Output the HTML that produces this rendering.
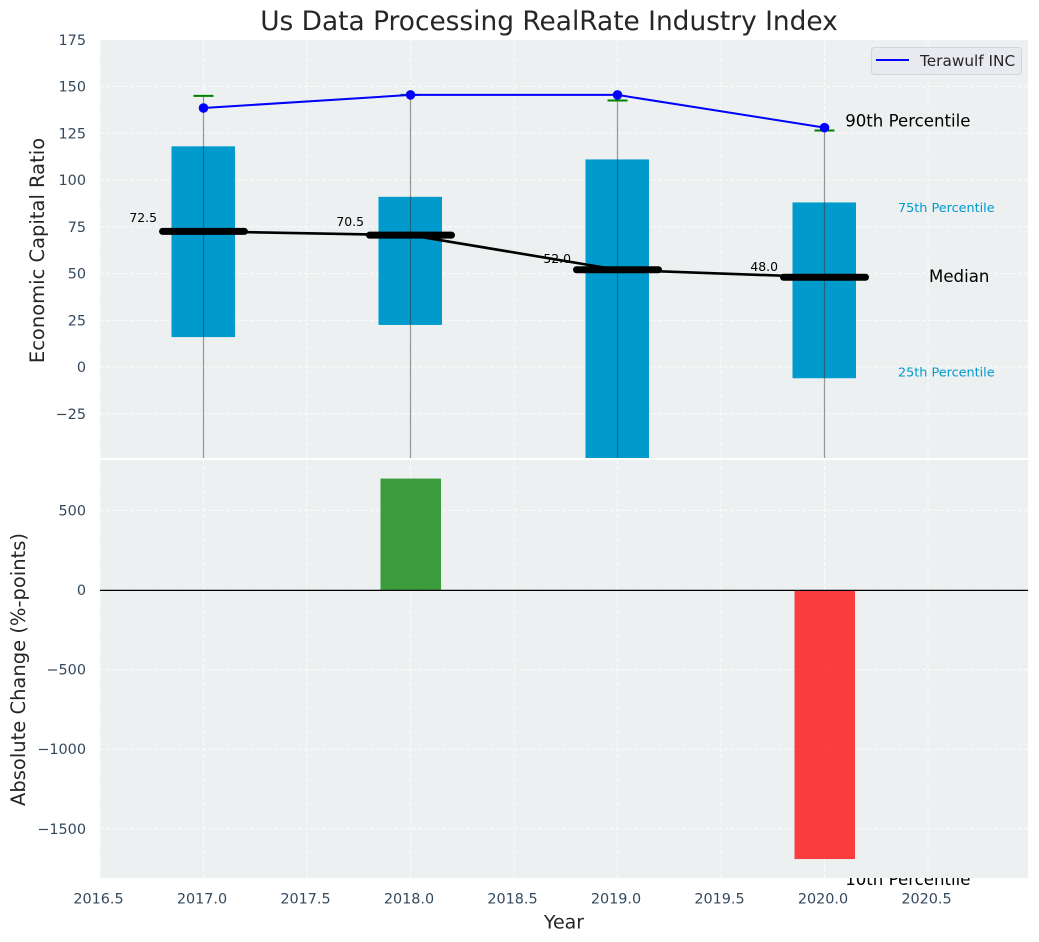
<!DOCTYPE html>
<html>
<head>
<meta charset="utf-8">
<title>Us Data Processing RealRate Industry Index</title>
<style>
html,body{margin:0;padding:0;background:#fff;}
svg{display:block;font-family:"DejaVu Sans","Liberation Sans",sans-serif;}
</style>
</head>
<body>
<svg id="chart" xmlns="http://www.w3.org/2000/svg" width="1039" height="942" viewBox="0 0 1039 942">
<defs>
<clipPath id="clip-top"><rect x="100" y="40" width="928" height="418"/></clipPath>
<clipPath id="clip-bottom"><rect x="100" y="460" width="928" height="418"/></clipPath>
</defs>
</svg>
<script>
const years = [2017, 2018, 2019, 2020];
const p90 = [145, 145.5, 142.5, 126.5];
const p75 = [118, 91, 111, 88];
const medians = [72.5, 70.5, 52, 48];
const p25 = [16, 22.5, -60, -6];
const p10 = [-70, -70, -90, -60];
const company = [138.5, 145.5, 145.5, 128];
const changes = [0, 700, 0, -1690];
const xTicks = [2016.5, 2017, 2017.5, 2018, 2018.5, 2019, 2019.5, 2020, 2020.5];
const topTicks = [175, 150, 125, 100, 75, 50, 25, 0, -25];
const bottomTicks = [500, 0, -500, -1000, -1500];
const percentileNames = ['90th Percentile', '75th Percentile', 'Median', '25th Percentile', '10th Percentile'];
const percentileX = [2020.1, 2020.355, 2020.505, 2020.355, 2020.1];
const percentileY = [128.5, 83, 45.5, -5, -277];

const NS = 'http://www.w3.org/2000/svg';
const svg = document.getElementById('chart');
const PL = 100, PR = 1028, TT = 40, TB = 458, BT = 460, BB = 878;
function x(v) { return 100 + (v - 2016.5) * 207; }
function yTop(v) { return 367 - v * 1.87; }
function yBot(v) { return 590 - v * 0.1592; }
function make(tag, attrs, parent) {
  const e = document.createElementNS(NS, tag);
  for (const k in attrs) e.setAttribute(k, attrs[k]);
  (parent || svg).appendChild(e);
  return e;
}
function fmt(v) { return v < 0 ? '\u2212' + Math.abs(v) : String(v); }

const title = make('text', {x: 549, y: 30, 'text-anchor': 'middle', 'font-size': 26.4, fill: '#262626'});
title.textContent = 'Us Data Processing RealRate Industry Index';



/* top panel */
const topBg = make('rect', {x: PL, y: TT, width: PR - PL, height: TB - TT, fill: '#ecf0f1'});



const topGrid = make('g', {stroke: '#fff', 'stroke-width': 1, 'stroke-dasharray': '4 2', opacity: 0.85});


xTicks.forEach(function (t) {
  const l = make('line', {x1: x(t), x2: x(t), y1: TT, y2: TB}, topGrid);
  
  
});
topTicks.forEach(function (t) {
  const l = make('line', {x1: PL, x2: PR, y1: yTop(t), y2: yTop(t)}, topGrid);
  
  
});

const topMarks = make('g', {'clip-path': 'url(#clip-top)'});



years.forEach(function (yr, i) {
  const box = make('rect', {
    x: x(yr) - 32, width: 63.5,
    y: yTop(p75[i]), height: yTop(p25[i]) - yTop(p75[i]),
    fill: '#009acd'
  }, topMarks);
  
  
});
years.forEach(function (yr, i) {
  const w = make('line', {
    x1: x(yr), x2: x(yr), y1: yTop(p90[i]), y2: yTop(p10[i]),
    stroke: '#333', 'stroke-opacity': 0.5, 'stroke-width': 1.2
  }, topMarks);
  
  
  const c = make('line', {
    x1: x(yr) - 10, x2: x(yr) + 10, y1: yTop(p90[i]), y2: yTop(p90[i]),
    stroke: '#008000', 'stroke-width': 2
  }, topMarks);
  
  
});

const medianLine = make('polyline', {
  points: years.map(function (yr, i) { return x(yr) + ',' + yTop(medians[i]); }).join(' '),
  fill: 'none', stroke: '#000', 'stroke-width': 2.6
}, topMarks);



years.forEach(function (yr, i) {
  const m = make('line', {
    x1: x(yr) - 41, x2: x(yr) + 41, y1: yTop(medians[i]), y2: yTop(medians[i]),
    stroke: '#000', 'stroke-width': 7, 'stroke-linecap': 'round'
  }, topMarks);
  
  
  const t = make('text', {
    x: x(yr) - 46.5, y: yTop(medians[i] * 1.07), 'text-anchor': 'end', 'font-size': 12.4, fill: '#000'
  }, topMarks);
  t.textContent = medians[i].toFixed(1);
  
  
});

const companyLine = make('polyline', {
  points: years.map(function (yr, i) { return x(yr) + ',' + yTop(company[i]); }).join(' '),
  fill: 'none', stroke: '#0000ff', 'stroke-width': 2
}, topMarks);


years.forEach(function (yr, i) {
  const d = make('circle', {cx: x(yr), cy: yTop(company[i]), r: 4.8, fill: '#0000ff'}, topMarks);
  
  
});

percentileNames.forEach(function (name, i) {
  const small = name.indexOf('75th') === 0 || name.indexOf('25th') === 0;
  const t = make('text', {
    x: x(percentileX[i]), y: yTop(percentileY[i]),
    'font-size': small ? 12.8 : 16.6, fill: small ? '#009acd' : '#000'
  });
  t.textContent = name;
  
  
});

/* legend */
const legend = make('g', {});


const legendBox = make('rect', {x: 871.5, y: 47.5, width: 150, height: 27, rx: 3, fill: '#e9eaf0', stroke: '#d4d5d8'}, legend);


const legendLine = make('line', {x1: 876, x2: 909, y1: 60, y2: 60, stroke: '#0000ff', 'stroke-width': 2}, legend);


const legendText = make('text', {x: 920, y: 66, 'font-size': 15.3, fill: '#262626'}, legend);
legendText.textContent = 'Terawulf INC';



/* bottom panel */
const botBg = make('rect', {x: PL, y: BT, width: PR - PL, height: BB - BT, fill: '#ecf0f1'});



const botGrid = make('g', {stroke: '#fff', 'stroke-width': 1, 'stroke-dasharray': '4 2', opacity: 0.85});


xTicks.forEach(function (t) {
  const l = make('line', {x1: x(t), x2: x(t), y1: BT, y2: BB}, botGrid);
  
  
});
bottomTicks.forEach(function (t) {
  const l = make('line', {x1: PL, x2: PR, y1: yBot(t), y2: yBot(t)}, botGrid);
  
  
});

const botMarks = make('g', {'clip-path': 'url(#clip-bottom)'});


years.forEach(function (yr, i) {
  if (!changes[i]) return;
  const top = Math.min(yBot(0), yBot(changes[i]));
  const bar = make('rect', {
    x: x(yr) - 30, width: 60.5, y: top, height: Math.abs(yBot(changes[i]) - yBot(0)),
    fill: changes[i] > 0 ? '#008000' : '#ff0000', 'fill-opacity': 0.75
  }, botMarks);
  
  
});
const zero = make('line', {x1: PL, x2: PR, y1: yBot(0) + 0.4, y2: yBot(0) + 0.4, stroke: '#000', 'stroke-width': 1.2});



/* tick labels */
topTicks.forEach(function (t) {
  const e = make('text', {x: 86, y: yTop(t) + 5, 'text-anchor': 'end', 'font-size': 14.4, fill: '#34495e'});
  e.textContent = fmt(t);
  
  
});
bottomTicks.forEach(function (t) {
  const e = make('text', {x: 86, y: yBot(t) + 5, 'text-anchor': 'end', 'font-size': 14.4, fill: '#34495e'});
  e.textContent = fmt(t);
  
  
});
xTicks.forEach(function (t) {
  const e = make('text', {x: x(t) - 1.5, y: 903.5, 'text-anchor': 'middle', 'font-size': 14.4, fill: '#34495e'});
  e.textContent = t.toFixed(1);
  
  
});

/* axis titles */
const xTitle = make('text', {x: 564, y: 928.5, 'text-anchor': 'middle', 'font-size': 19, fill: '#262626'});
xTitle.textContent = 'Year';


const y1Title = make('text', {transform: 'translate(44 250.5) rotate(-90)', 'text-anchor': 'middle', 'font-size': 19.5, fill: '#262626'});
y1Title.textContent = 'Economic Capital Ratio';


const y2Title = make('text', {transform: 'translate(25 669.5) rotate(-90)', 'text-anchor': 'middle', 'font-size': 19.5, fill: '#262626'});
y2Title.textContent = 'Absolute Change (%-points)';


</script>
</body>
</html>
